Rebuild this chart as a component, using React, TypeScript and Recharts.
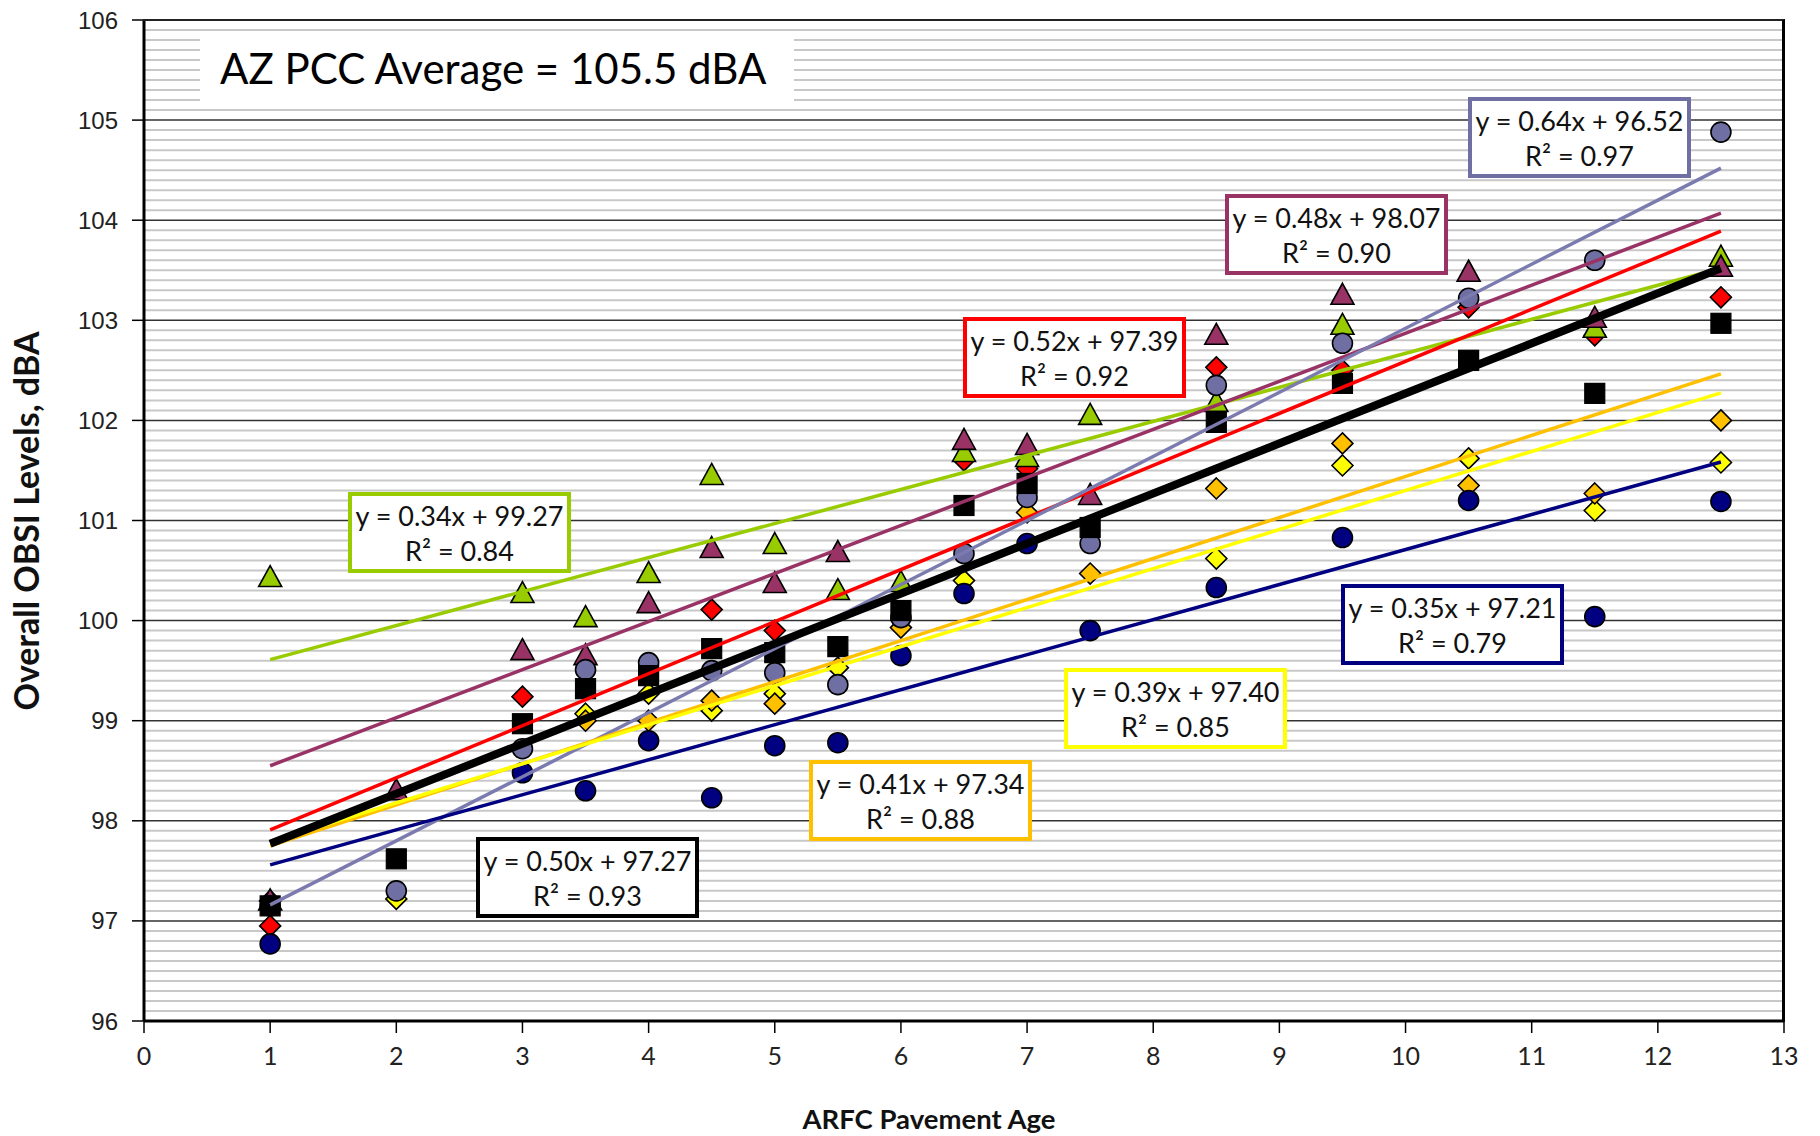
import { CartesianGrid, Scatter, ScatterChart, XAxis, YAxis } from 'recharts';

const AGES = [1, 2, 3, 3.5, 4, 4.5, 5, 5.5, 6, 6.5, 7, 7.5, 8.5, 9.5, 10.5, 11.5, 12.5];

const GREEN_PTS = [100.43, null, 100.27, 100.03, 100.47, 101.45, 100.76, 100.3, 100.38, 101.68, 101.63, 102.05, 102.18, 102.95, null, 102.92, 103.63];
const MAROON_PTS = [97.2, 98.3, 99.7, 99.65, 100.17, 100.72, 100.37, 100.68, null, 101.8, 101.75, 101.25, 102.85, 103.25, 103.48, 103.02, 103.53];
const RED_PTS = [96.95, null, 99.24, null, null, 100.11, 99.9, null, null, 101.6, 101.52, null, 102.53, 102.5, 103.13, 102.85, 103.23];
const LAVENDER_PTS = [97.15, 97.3, 98.72, 99.51, 99.58, 99.5, 99.48, 99.36, 100.03, 100.67, 101.23, 100.77, 102.35, 102.77, 103.22, 103.6, 104.88];
const NAVY_PTS = [96.77, null, 98.48, 98.3, 98.8, 98.23, 98.75, 98.78, 99.65, 100.27, 100.77, 99.9, 100.33, 100.83, 101.2, 100.04, 101.19];
const YELLOW_PTS = [97.2, 97.22, null, 99.07, 99.27, 99.1, 99.27, 99.53, null, 100.4, null, null, 100.62, 101.55, 101.62, 101.1, 101.58];
const ORANGE_PTS = [97.2, null, null, 99.0, 99.0, 99.2, 99.17, null, 99.93, null, 101.08, 100.47, 101.32, 101.77, 101.35, 101.27, 102.0];
const BLACK_PTS = [97.15, 97.62, 98.97, 99.32, 99.45, 99.72, 99.68, 99.74, 100.1, 101.15, 101.37, 100.93, 101.98, 102.37, 102.6, 102.27, 102.97];

// trendline equations as printed in the chart: [slope, intercept, r2]
const TRENDS = {
  green: [0.34, 99.27, 0.84],
  maroon: [0.48, 98.07, 0.9],
  red: [0.52, 97.39, 0.92],
  lavender: [0.64, 96.52, 0.97],
  navy: [0.35, 97.21, 0.79],
  yellow: [0.39, 97.4, 0.85],
  orange: [0.41, 97.34, 0.88],
  black: [0.5, 97.27, 0.93]
};
const TREND_RANGE = [1, 12.5];

const X_TICKS = [0, 1, 2, 3, 4, 5, 6, 7, 8, 9, 10, 11, 12, 13];
const Y_TICKS = [96, 97, 98, 99, 100, 101, 102, 103, 104, 105, 106];
const MINOR_TICKS = Array.from({ length: 101 }, (_, i) => Math.round((96 + i * 0.1) * 10) / 10);

const COLORS = {
  green: '#99CC00',
  maroon: '#993366',
  red: '#FF0000',
  lavender: '#6F6FA3',
  navy: '#000080',
  yellow: '#FFFF00',
  orange: '#FFC000',
  black: '#000000'
};
const LINE_COLORS = { ...COLORS, lavender: '#7B7BB0' };

type Key = keyof typeof COLORS;

const SERIES: { key: Key; values: (number | null)[]; marker: string }[] = [
  { key: 'yellow', values: YELLOW_PTS, marker: 'diamond' },
  { key: 'orange', values: ORANGE_PTS, marker: 'diamond' },
  { key: 'red', values: RED_PTS, marker: 'diamond' },
  { key: 'green', values: GREEN_PTS, marker: 'triangle' },
  { key: 'maroon', values: MAROON_PTS, marker: 'triangle' },
  { key: 'navy', values: NAVY_PTS, marker: 'circle' },
  { key: 'lavender', values: LAVENDER_PTS, marker: 'circle' },
  { key: 'black', values: BLACK_PTS, marker: 'square' }
];

const TREND_ORDER: Key[] = ['green', 'maroon', 'red', 'lavender', 'navy', 'orange', 'yellow', 'black'];

// label boxes, placed in page pixels
const BOXES: { key: Key; left: number; top: number }[] = [
  { key: 'green', left: 348, top: 492 },
  { key: 'black', left: 476, top: 837 },
  { key: 'orange', left: 809, top: 760 },
  { key: 'yellow', left: 1064, top: 668 },
  { key: 'red', left: 963, top: 317 },
  { key: 'maroon', left: 1225, top: 194 },
  { key: 'lavender', left: 1468, top: 97 },
  { key: 'navy', left: 1341, top: 584 }
];

function toPoints(values: (number | null)[]) {
  return AGES.map((x, i) => ({ x, y: values[i] })).filter((p) => p.y !== null);
}

function trendPoints(key: Key) {
  const [m, b] = TRENDS[key];
  return TREND_RANGE.map((x) => ({ x, y: m * x + b }));
}

function Marker(props: any) {
  const { cx, cy, fill, marker } = props;
  if (cx == null || cy == null) return <g />;
  const stroke = '#000';
  if (marker === 'triangle') {
    return <path d={`M${cx},${cy - 12} L${cx + 11.5},${cy + 9} L${cx - 11.5},${cy + 9} Z`} fill={fill} stroke={stroke} strokeWidth={1.6} />;
  }
  if (marker === 'diamond') {
    return <path d={`M${cx},${cy - 10.5} L${cx + 10.5},${cy} L${cx},${cy + 10.5} L${cx - 10.5},${cy} Z`} fill={fill} stroke={stroke} strokeWidth={1.6} />;
  }
  if (marker === 'square') {
    return <rect x={cx - 10} y={cy - 10} width={20} height={20} fill={fill} stroke={stroke} strokeWidth={1.2} />;
  }
  return <circle cx={cx} cy={cy} r={10} fill={fill} stroke={stroke} strokeWidth={1.6} />;
}

function minorLines({ yAxis, offset }: any) {
  if (yAxis && typeof yAxis.scale === 'function') {
    return MINOR_TICKS.filter((t) => !Number.isInteger(t)).map((t) => yAxis.scale(t));
  }
  return MINOR_TICKS.filter((t) => !Number.isInteger(t)).map(
    (t) => offset.top + ((106 - t) / 10) * offset.height
  );
}

const BOX_FONT = 'Lato, "Open Sans", sans-serif';

export default function App() {
  return (
    <div style={{ position: 'absolute', left: 0, top: 0, width: 1820, height: 1136, background: '#fff' }}>
      <ScatterChart width={1820} height={1136} margin={{ top: 20, right: 36, bottom: 55, left: 0 }}>
        <CartesianGrid
          vertical={false}
          horizontalCoordinatesGenerator={minorLines}
          stroke="#C8C8C8"
          strokeWidth={2}
        />
        <CartesianGrid vertical={false} stroke="#333" strokeWidth={1.5} />
        <XAxis
          type="number"
          dataKey="x"
          domain={[0, 13]}
          ticks={X_TICKS}
          interval={0}
          height={60}
          tickSize={12}
          tickMargin={14}
          axisLine={{ stroke: '#000', strokeWidth: 3 }}
          tickLine={{ stroke: '#000', strokeWidth: 1.5 }}
          tick={{ fill: '#222', fontSize: 25, fontFamily: BOX_FONT }}
        />
        <YAxis
          type="number"
          dataKey="y"
          domain={[96, 106]}
          ticks={Y_TICKS}
          interval={0}
          width={144}
          tickSize={12}
          tickMargin={14}
          axisLine={{ stroke: '#000', strokeWidth: 3 }}
          tickLine={{ stroke: '#000', strokeWidth: 1.5 }}
          tick={{ fill: '#222', fontSize: 24, fontFamily: '"Liberation Sans", Arial, sans-serif' }}
        />
        {SERIES.map((s) => (
          <Scatter
            key={s.key}
            data={toPoints(s.values)}
            fill={COLORS[s.key]}
            isAnimationActive={false}
            shape={(p: any) => <Marker {...p} fill={COLORS[s.key]} marker={s.marker} />}
          />
        ))}
        {TREND_ORDER.map((k) => (
          <Scatter
            key={'trend-' + k}
            data={trendPoints(k)}
            line={{ stroke: LINE_COLORS[k], strokeWidth: k === 'black' ? 8 : 3.5 }}
            lineType="joint"
            isAnimationActive={false}
            shape={() => <g />}
          />
        ))}
      </ScatterChart>

      {/* plot frame */}
      <div
        style={{
          position: 'absolute',
          left: 143,
          top: 19,
          width: 1642,
          height: 1003,
          boxSizing: 'border-box',
          borderTop: '2px solid #222',
          borderRight: '3px solid #000',
          pointerEvents: 'none'
        }}
      />

      <div
        style={{
          position: 'absolute',
          left: 200,
          top: 35,
          width: 594,
          height: 67,
          background: '#fff',
          fontFamily: BOX_FONT,
          fontSize: 42,
          lineHeight: '67px',
          paddingLeft: 20,
          boxSizing: 'border-box',
          color: '#000',
          whiteSpace: 'nowrap'
        }}
      >
        AZ PCC Average = 105.5 dBA
      </div>

      {BOXES.map((b) => {
        const [m, c, r2] = TRENDS[b.key];
        return (
          <div
            key={b.key}
            style={{
              position: 'absolute',
              left: b.left,
              top: b.top,
              width: 223,
              height: 81,
              boxSizing: 'border-box',
              border: `4px solid ${b.key === 'lavender' ? '#6F6FA3' : COLORS[b.key]}`,
              background: '#fff',
              fontFamily: BOX_FONT,
              fontSize: 27,
              lineHeight: '35px',
              textAlign: 'center',
              color: '#111',
              paddingTop: 2,
              whiteSpace: 'nowrap'
            }}
          >
            <div>y = {m.toFixed(2)}x + {c.toFixed(2)}</div>
            <div>R² = {r2.toFixed(2)}</div>
          </div>
        );
      })}

      <div
        style={{
          position: 'absolute',
          left: 929 - 200,
          top: 1102,
          width: 400,
          textAlign: 'center',
          fontFamily: BOX_FONT,
          fontWeight: 700,
          fontSize: 27.5,
          color: '#111'
        }}
      >
        ARFC Pavement Age
      </div>
      <div
        style={{
          position: 'absolute',
          left: 26 - 250,
          top: 521 - 20,
          width: 500,
          height: 40,
          lineHeight: '40px',
          textAlign: 'center',
          transform: 'rotate(-90deg)',
          fontFamily: BOX_FONT,
          fontWeight: 700,
          fontSize: 34,
          color: '#111'
        }}
      >
        Overall OBSI Levels, dBA
      </div>
    </div>
  );
}
